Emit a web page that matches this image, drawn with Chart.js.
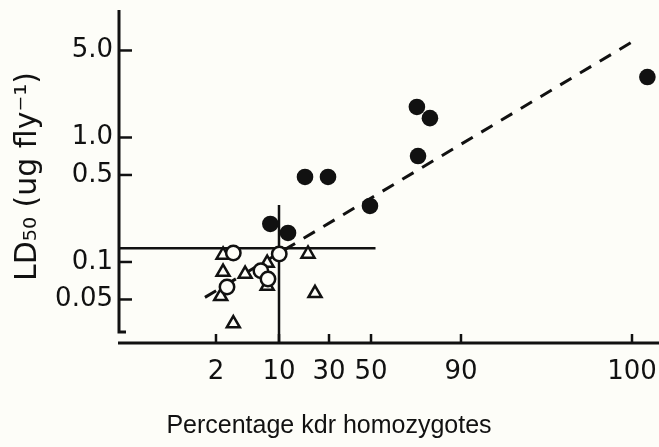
<!DOCTYPE html>
<html><head><meta charset="utf-8">
<script src="https://cdn.jsdelivr.net/npm/chart.js@4.4.0/dist/chart.umd.min.js"></script>
<style>html,body{margin:0;padding:0;background:#fdfdf8;} canvas{display:block;}</style>
</head><body>
<canvas id="c" width="659" height="447"></canvas>
<script>
// ---- tick labels ----
const xTickValues = [2, 10, 30, 50, 90, 100];
const yTickValues = [0.05, 0.1, 0.5, 1.0, 5.0];
const yTickLabels = ['0.05', '0.1', '0.5', '1.0', '5.0'];

// ---- series: percentage kdr homozygotes vs LD50 ----
// filled circles
const filledKdr  = [8.9, 13.6, 20.4, 29.6, 49.5, 70.4, 76.2, 70.9, 100.9];
const filledLD50 = [0.202, 0.171, 0.482, 0.482, 0.282, 1.76, 1.43, 0.71, 3.06];
// open circles
const openKdr  = [4.2, 10.1, 7.7, 3.4, 8.6];
const openLD50 = [0.118, 0.116, 0.085, 0.063, 0.073];
// open triangles
const triKdr  = [2.9, 21.6, 2.9, 5.7, 8.5, 8.5, 2.6, 24.4, 4.2];
const triLD50 = [0.114, 0.116, 0.083, 0.080, 0.098, 0.064, 0.053, 0.056, 0.032];
// fitted (dashed) line end points
const fitKdr  = [0.6, 100];
const fitLD50 = [0.052, 5.85];
// threshold lines
const ldThreshold = 0.129;
const ldThresholdEndKdr = 52;
const kdrThreshold = 10;
const kdrThresholdTopLD50 = 0.287;

// ---- non-linear (probit-like) percentage axis: where each labelled % sits along the axis (0-100 of its length)
const xAxisAnchorsPct = [2, 10, 30, 50, 90, 100];
const xAxisAnchorsPos = [17.96, 29.63, 38.89, 46.67, 63.33, 95.0];
function toAxis(p) {
  const a = xAxisAnchorsPct, b = xAxisAnchorsPos;
  let i = 0;
  if (p <= a[0]) i = 0;
  else if (p >= a[a.length - 1]) i = a.length - 2;
  else { while (p > a[i + 1]) i++; }
  return b[i] + (p - a[i]) * (b[i + 1] - b[i]) / (a[i + 1] - a[i]);
}
const X_MIN = 0, X_MAX = 100;
const Y_MIN = 0.02235, Y_MAX = 10.57;

const INK = '#111111';
const BG = '#fdfdf8';
const TICK_FONT = '"DejaVu Sans", "Liberation Sans", sans-serif';
const pts = (xs, ys) => xs.map((x, i) => ({ x: toAxis(x), y: ys[i] }));

const decor = {
  id: 'decor',
  beforeDraw(chart) {
    const c = chart.ctx;
    c.save(); c.fillStyle = BG; c.fillRect(0, 0, chart.width, chart.height); c.restore();
  },
  beforeDatasetsDraw(chart) {
    const c = chart.ctx, xs = chart.scales.x, ys = chart.scales.y, a = chart.chartArea;
    c.save();
    c.strokeStyle = INK; c.lineWidth = 3; c.lineCap = 'butt';
    // y axis with foot
    const yBot = a.bottom - 11;
    c.beginPath(); c.moveTo(a.left, a.top); c.lineTo(a.left, yBot); c.lineTo(a.left + 7, yBot); c.stroke();
    // x axis
    c.beginPath(); c.moveTo(a.left - 1, a.bottom); c.lineTo(a.right, a.bottom); c.stroke();
    // inward ticks
    c.lineWidth = 2.5;
    xTickValues.forEach(v => {
      const px = xs.getPixelForValue(toAxis(v));
      c.beginPath(); c.moveTo(px, a.bottom); c.lineTo(px, a.bottom - 9); c.stroke();
    });
    yTickValues.forEach(v => {
      const py = ys.getPixelForValue(v);
      c.beginPath(); c.moveTo(a.left, py); c.lineTo(a.left + 13, py); c.stroke();
    });
    c.restore();
  },
  afterDraw(chart) {
    const c = chart.ctx;
    c.save();
    c.fillStyle = INK;
    c.font = '25px "Liberation Sans"';
    c.textAlign = 'center'; c.textBaseline = 'alphabetic';
    c.fillText('Percentage kdr homozygotes', 329, 433);
    c.restore();
  }
};

new Chart(document.getElementById('c'), {
  type: 'scatter',
  data: {
    datasets: [
      { data: pts(filledKdr, filledLD50), pointStyle: 'circle', pointRadius: 8.3,
        backgroundColor: INK, borderColor: INK, borderWidth: 0 },
      { data: pts(openKdr, openLD50), pointStyle: 'circle', pointRadius: 7.2,
        backgroundColor: BG, borderColor: INK, borderWidth: 2.5 },
      { data: pts(triKdr, triLD50), pointStyle: 'triangle', pointRadius: 7.5,
        backgroundColor: BG, borderColor: INK, borderWidth: 2.5 },
      { data: pts(fitKdr, fitLD50), showLine: true, pointRadius: 0,
        borderColor: INK, borderWidth: 3, borderDash: [13, 10] },
      { data: [{ x: X_MIN, y: ldThreshold }, { x: toAxis(ldThresholdEndKdr), y: ldThreshold }],
        showLine: true, pointRadius: 0, borderColor: INK, borderWidth: 2.5 },
      { data: [{ x: toAxis(kdrThreshold), y: Y_MIN }, { x: toAxis(kdrThreshold), y: kdrThresholdTopLD50 }],
        showLine: true, pointRadius: 0, borderColor: INK, borderWidth: 2.5 }
    ]
  },
  options: {
    responsive: false, animation: false, devicePixelRatio: 1,
    clip: false,
    layout: { autoPadding: false, padding: { top: 10, right: 0, left: 0, bottom: 0 } },
    plugins: { legend: { display: false }, tooltip: { enabled: false } },
    scales: {
      x: {
        type: 'linear', min: X_MIN, max: X_MAX,
        grid: { display: false, drawTicks: true, tickLength: 14 }, border: { display: false },
        afterBuildTicks: s => { s.ticks = xTickValues.map(v => ({ value: toAxis(v) })); },
        ticks: {
          autoSkip: false, maxRotation: 0, padding: 0, color: INK,
          font: { family: TICK_FONT, size: 26 },
          callback: (val, i) => String(xTickValues[i])
        },
        afterFit: s => { s.height = 104; s.paddingLeft = 0; s.paddingRight = 0; }
      },
      y: {
        type: 'logarithmic', min: Y_MIN, max: Y_MAX,
        grid: { display: false, drawTicks: false }, border: { display: false },
        afterBuildTicks: s => { s.ticks = yTickValues.map(v => ({ value: v })); },
        ticks: {
          autoSkip: false, padding: 6, color: INK,
          font: { family: TICK_FONT, size: 26 },
          callback: (val, i) => yTickLabels[i]
        },
        title: { display: true, text: 'LD₅₀ (ug fly⁻¹)', color: INK,
          font: { family: TICK_FONT, size: 30 }, padding: { top: 10, bottom: 0 } },
        afterFit: s => { s.width = 119; s.paddingTop = 0; s.paddingBottom = 0; }
      }
    }
  },
  plugins: [decor]
});
</script>
</body></html>
